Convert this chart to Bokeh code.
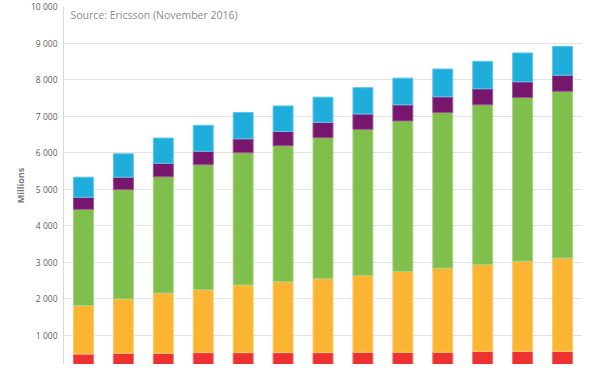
from bokeh.plotting import figure
from bokeh.models import Label, FactorRange, Range1d, CustomJSTickFormatter, FixedTicker
from bokeh.embed import file_html
from bokeh.resources import INLINE

years = [str(y) for y in range(2010, 2023)]
series = ["s1", "s2", "s3", "s4", "s5"]
s1 = [490, 510, 510, 530, 530, 530, 530, 540, 540, 540, 560, 560, 560]
s2 = [1330, 1490, 1650, 1720, 1850, 1940, 2020, 2100, 2210, 2300, 2380, 2470, 2560]
s3 = [2630, 2990, 3180, 3420, 3620, 3720, 3860, 4000, 4120, 4260, 4370, 4480, 4560]
s4 = [330, 340, 370, 370, 380, 390, 420, 420, 440, 430, 440, 430, 440]
s5 = [550, 640, 690, 710, 720, 700, 690, 720, 730, 760, 750, 790, 790]
y_ticks = [0, 1000, 2000, 3000, 4000, 5000, 6000, 7000, 8000, 9000, 10000]

colors = ["#ED3131", "#FBB533", "#80BF4B", "#76166D", "#1FAEDB"]
edges = ["#F26A6A", "#FCCB70", "#A6D484", "#9A5592", "#62C6E6"]

data = dict(x=years, s1=s1, s2=s2, s3=s3, s4=s4, s5=s5)

p = figure(width=584, height=364, x_range=FactorRange(*years, range_padding=0),
           y_range=Range1d(205, 10000), output_backend="svg", toolbar_location=None,
           x_axis_location=None, min_border_left=63, min_border_right=2,
           min_border_top=6, min_border_bottom=0)
p.outline_line_color = None
p.background_fill_color = "white"

p.vbar_stack(series, x="x", width=0.5, source=data, fill_color=colors,
             line_color=edges, line_width=1)

p.xgrid.grid_line_color = None
p.ygrid.grid_line_color = "#E3E3E3"
p.ygrid.grid_line_width = 1

ax = p.yaxis[0]
ax.ticker = FixedTicker(ticks=y_ticks)
ax.formatter = CustomJSTickFormatter(code="return tick >= 1000 ? Math.floor(tick/1000) + ' ' + String(tick % 1000).padStart(3, '0') : String(tick);")
ax.axis_line_color = "#D8D8D8"
ax.major_tick_line_color = None
ax.minor_tick_line_color = None
ax.major_tick_out = 0
ax.major_tick_in = 0
ax.major_label_standoff = 6
ax.major_label_text_font = "Open Sans"
ax.major_label_text_font_size = "8.5px"
ax.major_label_text_color = "#5E5E5E"
ax.axis_label = "Millions"
ax.axis_label_text_font = "Open Sans"
ax.axis_label_text_font_size = "9px"
ax.axis_label_text_font_style = "bold"
ax.axis_label_text_color = "#7A7A7A"
ax.axis_label_standoff = 1

p.add_layout(Label(x=0.175, y=9754, text="Source: Ericsson (November 2016)",
                   text_font="Open Sans", text_font_size="10.5px",
                   text_color="#8C8C8C", text_baseline="middle"))

open("out.html", "w").write(file_html(p, INLINE))
